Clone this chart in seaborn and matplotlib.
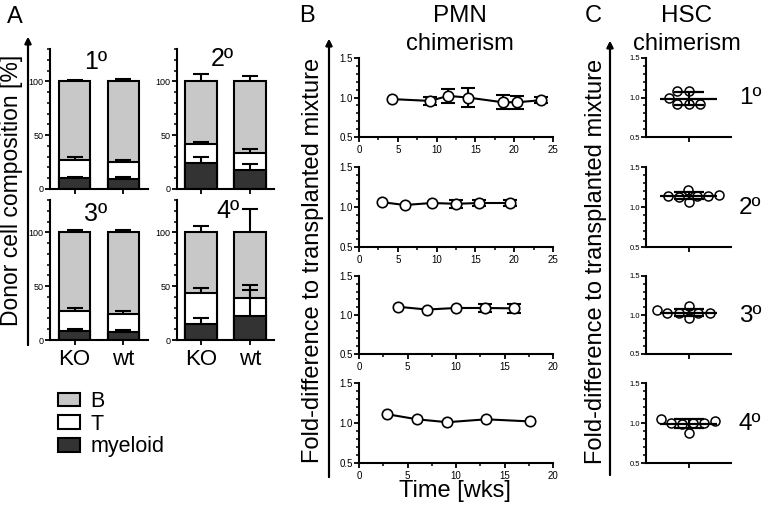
import numpy as np
import pandas as pd
import seaborn as sns
from matplotlib import pyplot as plt
from matplotlib.patches import Patch
from matplotlib.ticker import MultipleLocator

sns.set_style("ticks")
plt.rcParams['font.family'] = ['Liberation Sans', 'DejaVu Sans']
plt.rcParams['axes.edgecolor'] = 'black'
plt.rcParams['axes.linewidth'] = 1.5
plt.rcParams['xtick.color'] = 'black'
plt.rcParams['ytick.color'] = 'black'
plt.rcParams['text.color'] = 'black'

W, H = 765, 505

# ---- panel A: donor cell composition (stacked %)
genotypes = ['KO', 'wt']
rounds = ['1º', '2º', '3º', '4º']
cells = ['B', 'T', 'myeloid']
myeloid_pct = [[9.9, 9.3], [23.7, 17.3], [8.3, 7.7], [15.1, 22.0]]
t_pct = [[17.0, 15.4], [18.0, 15.8], [18.6, 16.1], [28.9, 16.7]]
b_pct = [[73.1, 75.3], [58.3, 66.9], [73.1, 76.2], [56.0, 61.3]]
myeloid_err = [[1.5, 2.1], [6.2, 5.7], [1.6, 1.3], [5.7, 24.5]]
t_err = [[2.4, 2.2], [2.4, 4.4], [3.1, 3.1], [4.7, 12.5]]
b_err = [[1.2, 1.9], [7.0, 5.0], [2.2, 2.2], [6.3, 21.3]]

# ---- panel B: PMN chimerism over time
pmn_weeks = [[4.2, 9.1, 11.5, 14.0, 18.5, 20.4, 23.5],
             [3.0, 5.9, 9.4, 12.5, 15.5, 19.4],
             [4.0, 7.0, 10.0, 13.0, 16.0],
             [2.9, 6.0, 9.1, 13.1, 17.6]]
pmn_fold = [[0.98, 0.957, 1.02, 1.0, 0.94, 0.94, 0.966],
            [1.06, 1.025, 1.05, 1.04, 1.05, 1.05],
            [1.106, 1.07, 1.09, 1.09, 1.085],
            [1.11, 1.046, 1.01, 1.046, 1.02]]
pmn_sd = [[0, 0.05, 0.085, 0.125, 0.09, 0.08, 0.04],
          [0, 0, 0, 0.05, 0.04, 0.04],
          [0, 0, 0, 0.05, 0.06],
          [0, 0, 0, 0, 0]]
pmn_xmax = [25, 25, 20, 20]

# ---- panel C: HSC chimerism
hsc_fold = [[1.08, 1.08, 1.0, 0.92, 0.92, 0.92],
            [1.21, 1.14, 1.13, 1.14, 1.15, 1.14, 1.06],
            [1.11, 1.02, 1.02, 1.02, 1.02, 0.96, 1.06],
            [1.05, 1.0, 1.0, 0.99, 1.0, 0.88, 1.02]]

palette = {'B': '#c8c8c8', 'T': 'white', 'myeloid': '#333333'}


def rect(left, top, right, bottom):
    return [left / W, 1 - bottom / H, (right - left) / W, (bottom - top) / H]


def ftext(x, y, s, size=17, **kw):
    fig.text(x / W, 1 - y / H, s, ha='center', va='center', fontsize=size, **kw)


def farrow(x, y0, y1):
    fig.add_artist(plt.annotate('', xy=(x / W, 1 - y1 / H), xytext=(x / W, 1 - y0 / H),
                                xycoords='figure fraction',
                                arrowprops=dict(arrowstyle='-|>', lw=1.5, color='k',
                                                mutation_scale=9, shrinkA=0, shrinkB=0)))


def style_ticks(ax, size):
    ax.tick_params(which='major', length=3.5, width=1.3, labelsize=size, pad=1)
    ax.tick_params(which='minor', length=2.5, width=1.1)
    sns.despine(ax=ax)


fig = plt.figure(figsize=(W / 100, H / 100), dpi=100)

# ---------------- A
a_rects = [(50, 49, 148, 189), (177, 49, 274, 189), (50, 200, 148, 340), (177, 200, 274, 340)]
a_lab = [(0.47, 0.91), (0.47, 0.93), (0.47, 0.90), (0.52, 0.92)]
for i, r in enumerate(rounds):
    ax = fig.add_axes(rect(*a_rects[i]))
    rows = []
    for j, g in enumerate(genotypes):
        m, t, b = myeloid_pct[i][j], t_pct[i][j], b_pct[i][j]
        rows += [(g, 'B', m + t + b, b_err[i][j]),
                 (g, 'T', m + t, t_err[i][j]),
                 (g, 'myeloid', m, myeloid_err[i][j])]
    df = pd.DataFrame(rows, columns=['genotype', 'cell', 'top', 'err'])
    sns.barplot(data=df, x='genotype', y='top', hue='cell', order=genotypes,
                hue_order=cells, palette=palette, dodge=False, width=0.65,
                edgecolor='black', linewidth=1.5, saturation=1, errorbar=None,
                legend=False, ax=ax)
    for c in cells:
        sub = df[df.cell == c]
        eb = ax.errorbar(np.arange(len(genotypes)), sub.top,
                         yerr=[np.zeros(len(sub)), sub.err], fmt='none',
                         ecolor='black', elinewidth=1.5, capsize=5.5, capthick=1.5,
                         zorder=5)
        eb[1][0].set_visible(False)
    ax.set_ylim(0, 130)
    ax.set_xlim(-0.5, 1.5)
    ax.set_yticks([0, 50, 100])
    ax.yaxis.set_minor_locator(MultipleLocator(10))
    ax.set_xlabel('')
    ax.set_ylabel('')
    style_ticks(ax, 6.5)
    if i < 2:
        ax.set_xticklabels([])
    else:
        ax.tick_params(axis='x', labelsize=16, pad=3)
    ax.text(*a_lab[i], r, transform=ax.transAxes, ha='center', va='center', fontsize=18)

handles = [Patch(facecolor=palette[c], edgecolor='black', linewidth=1.5) for c in cells]
fig.legend(handles, cells, loc='upper left', bbox_to_anchor=(58 / W, 1 - 391 / H),
           frameon=False, fontsize=15.5, handlelength=1.0, handleheight=0.6,
           labelspacing=0.08, handletextpad=0.5, borderpad=0, borderaxespad=0)

ftext(15, 17, 'A')
ftext(12, 190, 'Donor cell composition [%]', size=16.5, rotation=90)
farrow(28, 345, 37)

# ---------------- B
b_rows = [(58, 137), (167, 247), (276, 354), (383, 463)]
for i in range(4):
    ax = fig.add_axes(rect(359, b_rows[i][0], 553, b_rows[i][1]))
    x = np.array(pmn_weeks[i])
    y = np.array(pmn_fold[i])
    sd = np.array(pmn_sd[i])
    has = sd > 0
    if has.any():
        ax.errorbar(x[has], y[has], yerr=sd[has], fmt='none', ecolor='black',
                    elinewidth=1.5, capsize=4.7, capthick=1.5, zorder=2)
    sns.lineplot(x=x, y=y, estimator=None, sort=False, color='black', lw=1.5,
                 marker='o', markersize=7.5, markerfacecolor='white',
                 markeredgecolor='black', markeredgewidth=1.2, zorder=3, ax=ax)
    ax.set_xlim(0, pmn_xmax[i])
    ax.set_ylim(0.5, 1.5)
    ax.set_yticks([0.5, 1.0, 1.5])
    ax.set_yticklabels(['0.5', '1.0', '1.5'])
    ax.yaxis.set_minor_locator(MultipleLocator(0.1))
    ax.xaxis.set_major_locator(MultipleLocator(5))
    ax.xaxis.set_minor_locator(MultipleLocator(2.5))
    style_ticks(ax, 7)
    ax.tick_params(axis='x', pad=2)
    for sp in ax.spines.values():
        sp.set_clip_on(False)

ftext(307, 16, 'B')
ftext(460, 16, 'PMN', size=17.5)
ftext(460, 44, 'chimerism', size=17)
ftext(455, 491, 'Time [wks]', size=17)
ftext(313, 260, 'Fold-difference to transplanted mixture', rotation=90)
farrow(329, 477, 39)

# ---------------- C
for i in range(4):
    ax = fig.add_axes(rect(646, b_rows[i][0], 731, b_rows[i][1]))
    vals = np.array(hsc_fold[i])
    sns.swarmplot(y=vals, color='white', edgecolor='black', linewidth=1.1,
                  size=6.5, zorder=3, ax=ax)
    mean, sd = vals.mean(), vals.std(ddof=1)
    ax.hlines(mean, -0.33, 0.33, color='black', lw=1.6, zorder=4)
    ax.errorbar([0], [mean], yerr=[sd], fmt='none', ecolor='black',
                elinewidth=1.5, capsize=10.8, capthick=1.6, zorder=4)
    ax.set_xlim(-0.5, 0.5)
    ax.set_ylim(0.5, 1.5)
    ax.set_xticks([0])
    ax.set_xticklabels([])
    ax.set_yticks([0.5, 1.0, 1.5])
    ax.set_yticklabels(['0.5', '1.0', '1.5'])
    ax.yaxis.set_minor_locator(MultipleLocator(0.1))
    ax.set_ylabel('')
    style_ticks(ax, 5.5)
    ftext(750, (b_rows[i][0] + b_rows[i][1]) / 2 + 1, rounds[i], size=17.5)

ftext(593, 16, 'C')
ftext(687, 16, 'HSC', size=17.5)
ftext(687, 44, 'chimerism', size=17)
ftext(596, 261, 'Fold-difference to transplanted mixture', rotation=90)
farrow(610, 475, 41)

fig.savefig('out.png', dpi=100)
